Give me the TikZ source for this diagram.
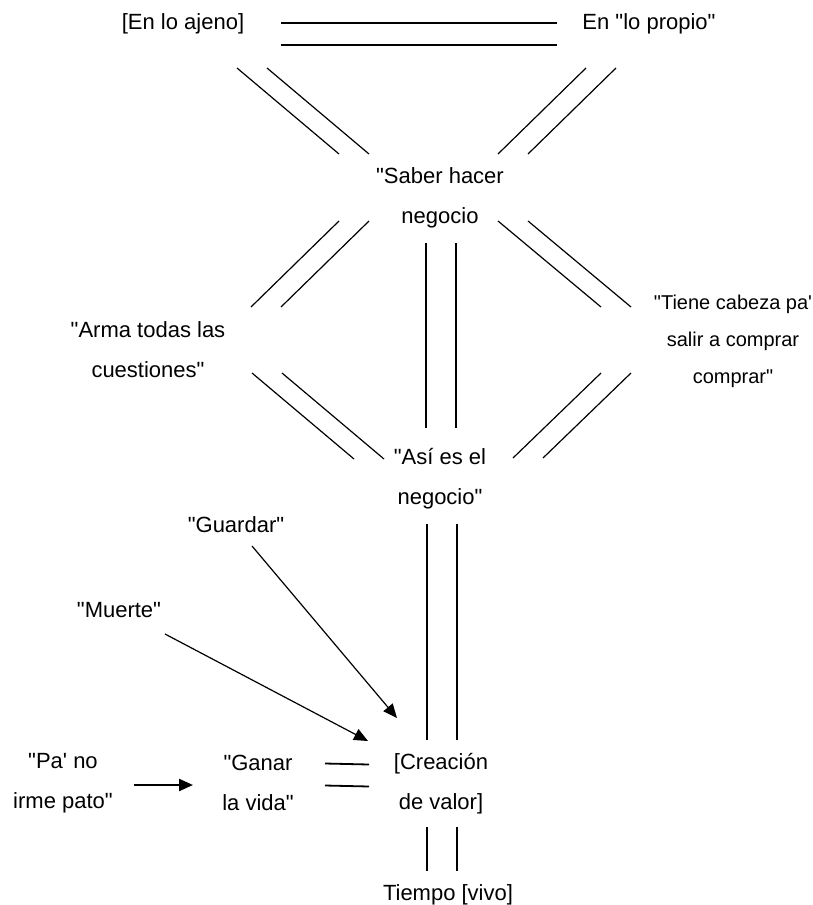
\documentclass[tikz,border=0pt]{standalone}
\usepackage{fontspec}
\setmainfont{Liberation Sans}[Ligatures=TeXOff]
\usetikzlibrary{arrows.meta}
\tikzset{
  txt/.style={inner sep=0pt, align=center, font=\fontsize{22}{40}\selectfont},
  smalltxt/.style={inner sep=0pt, align=center, font=\fontsize{20}{37}\selectfont},
  twin/.style={preaction={draw, line width=1.2pt, transform canvas={xshift=-15pt}},
    postaction={draw, line width=1.2pt, transform canvas={xshift=15pt}}},
  twinh/.style={preaction={draw, line width=#1, transform canvas={yshift=-11pt}},
    postaction={draw, line width=#1, transform canvas={yshift=11pt}}},
  arr/.style={draw, line width=1.2pt, -{Triangle[length=14pt,width=12pt]}}
}
\begin{document}
\begin{tikzpicture}[x=1pt,y=-1pt]
\useasboundingbox (0,0) rectangle (813,905);
% nodes
\node[txt] (ajeno) at (183,24) {[En lo ajeno]};
\node[txt] (propio) at (649,24) {En "lo propio"};
\node[txt] (saber) at (440,198) {"Saber hacer\\negocio};
\node[txt] (arma) at (148,350) {"Arma todas las\\cuestiones"};
\node[smalltxt] (tiene) at (733,341) {"Tiene cabeza pa'\\salir a comprar\\comprar"};
\node[txt] (asi) at (440,479) {"Así es el\\negocio"};
\node[txt] (guardar) at (236,525) {"Guardar"};
\node[txt] (muerte) at (119,610) {"Muerte"};
\node[txt] (pano) at (63,783) {"Pa' no\\irme pato"};
\node[txt] (ganar) at (258,783) {"Ganar\\la vida"};
\node[txt] (creacion) at (441,784) {[Creación\\de valor]};
\node[txt] (tiempo) at (448,895) {Tiempo [vivo]};
% double lines
\path[twinh=1.8pt] ([xshift=98pt,yshift=-10pt]ajeno.center) -- ([xshift=-92pt,yshift=-10pt]propio.center);
\path[twin] ([xshift=69pt,yshift=-44pt]ajeno.center) -- ([xshift=-86pt,yshift=44pt]saber.center);
\path[twin] ([xshift=-48pt,yshift=-44pt]propio.center) -- ([xshift=73pt,yshift=44pt]saber.center);
\path[twin] ([xshift=-86pt,yshift=-23pt]saber.center) -- ([xshift=118pt,yshift=43pt]arma.center);
\path[twin] ([xshift=73pt,yshift=-23pt]saber.center) -- ([xshift=-117pt,yshift=34pt]tiene.center);
\path[twin] ([xshift=1pt,yshift=-45pt]saber.center) -- ([xshift=1pt,yshift=51pt]asi.center);
\path[twin] ([xshift=119pt,yshift=-23pt]arma.center) -- ([xshift=-71pt,yshift=20pt]asi.center);
\path[twin] ([xshift=-117pt,yshift=-32pt]tiene.center) -- ([xshift=88pt,yshift=21pt]asi.center);
\path[twin] ([xshift=2pt,yshift=-45pt]asi.center) -- ([xshift=1pt,yshift=44pt]creacion.center);
\path[twin] ([xshift=1pt,yshift=-43pt]creacion.center) -- ([xshift=-6pt,yshift=24pt]tiempo.center);
\path[twinh=1.8pt] ([xshift=67pt,yshift=8.5pt]ganar.center) -- ([xshift=-72pt,yshift=8.5pt]creacion.center);
% arrows
\draw[arr] ([xshift=16pt,yshift=-21pt]guardar.center) -- ([xshift=-44pt,yshift=66pt]creacion.center);
\draw[arr] ([xshift=46pt,yshift=-24pt]muerte.center) -- ([xshift=-73pt,yshift=43pt]creacion.center);
\draw[arr, line width=2.2pt] ([xshift=71pt,yshift=-2pt]pano.center) -- ([xshift=-65pt,yshift=-2pt]ganar.center);
\end{tikzpicture}
\end{document}
